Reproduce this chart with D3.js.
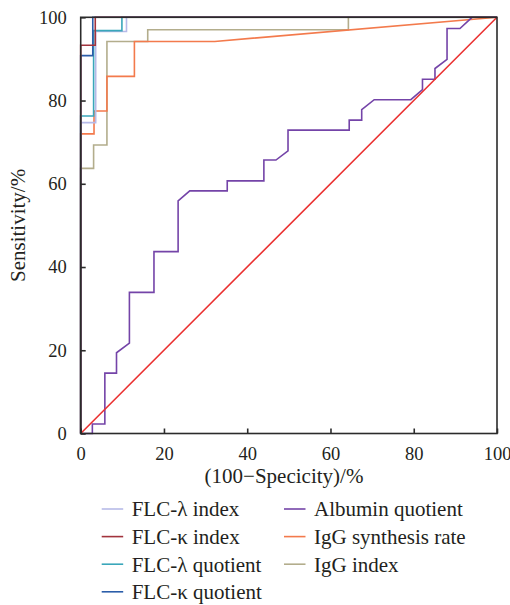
<!DOCTYPE html>
<html lang="en">
<head>
  <meta charset="UTF-8">
  <title>ROC curves</title>
  <style>
    body {
      margin: 0;
      padding: 0;
      background: #ffffff;
    }
    svg text {
      font-family: 'Liberation Serif', 'DejaVu Serif', serif;
      fill: #231f20;
    }
  </style>
</head>
<body>
<svg width="510" height="605" viewBox="0 0 510 605"></svg>

<script src="https://d3js.org/d3.v7.min.js"></script>
<script>
  // ROC curves, [100 - specificity, sensitivity] in %
  const flcLambdaIndex = [[0, 0], [0, 74.7], [3.6, 74.7], [3.6, 96.6], [11.0, 96.6], [11.0, 100], [100, 100]];
  const flcKappaIndex = [[0, 0], [0, 93.3], [3.5, 93.3], [3.5, 100], [100, 100]];
  const flcLambdaQuotient = [[0, 0], [0, 76.3], [3.1, 76.3], [3.1, 96.8], [9.9, 96.8], [9.9, 100], [100, 100]];
  const flcKappaQuotient = [[0, 0], [0, 90.8], [2.9, 90.8], [2.9, 100], [100, 100]];
  const albuminQuotient = [[0, 0], [2.8, 0], [2.8, 2.3], [5.8, 2.3], [5.8, 14.5], [8.6, 14.5], [8.6, 19.4],
    [11.7, 21.7], [11.7, 33.9], [17.6, 33.9], [17.6, 43.7], [23.4, 43.7], [23.4, 55.9], [26.2, 58.3],
    [35.2, 58.3], [35.2, 60.7], [44.0, 60.7], [44.0, 65.7], [46.9, 65.7], [49.8, 67.9], [49.8, 72.9],
    [64.5, 72.9], [64.5, 75.3], [67.5, 75.3], [67.5, 77.8], [70.5, 80.2], [79.3, 80.2], [82.1, 82.6],
    [82.1, 85.1], [85.1, 85.1], [85.1, 87.7], [88.0, 89.9], [88.0, 97.3], [91.1, 97.3], [94.0, 100], [100, 100]];
  const iggSynthesisRate = [[0, 0], [0, 72.0], [3.2, 72.0], [3.2, 77.5], [6.3, 77.5], [6.3, 85.8],
    [12.9, 85.8], [12.9, 94.2], [32.2, 94.2], [100, 100]];
  const iggIndex = [[0, 0], [0, 63.7], [3.1, 63.7], [3.1, 69.3], [6.3, 69.3], [6.3, 94.2], [16.1, 94.2],
    [16.1, 97.0], [64.3, 97.0], [64.3, 100], [100, 100]];
  const reference = [[0, 0], [100, 100]];

  const xTicks = [0, 20, 40, 60, 80, 100];
  const yTicks = [0, 20, 40, 60, 80, 100];

  // drawing order (bottom to top) and legend info
  const series = [
    { name: "IgG index", data: iggIndex, color: "#b3ad8c" },
    { name: "IgG synthesis rate", data: iggSynthesisRate, color: "#f37a4c" },
    { name: "Albumin quotient", data: albuminQuotient, color: "#7444a8" },
    { name: "FLC-λ index", data: flcLambdaIndex, color: "#b6bae8" },
    { name: "FLC-λ quotient", data: flcLambdaQuotient, color: "#3aa7ba" },
    { name: "FLC-κ quotient", data: flcKappaQuotient, color: "#2b5da9" },
    { name: "FLC-κ index", data: flcKappaIndex, color: "#a2333d" }
  ];
  const legendOrder = ["FLC-λ index", "FLC-κ index", "FLC-λ quotient", "FLC-κ quotient",
    "Albumin quotient", "IgG synthesis rate", "IgG index"];

  const margin = { left: 80.7, right: 13, top: 17.3, bottom: 171.5 };
  const width = 510, height = 605;

  const svg = d3.select("svg");

  const x = d3.scaleLinear().domain([0, 100]).range([margin.left, width - margin.right]);
  const y = d3.scaleLinear().domain([0, 100]).range([height - margin.bottom, margin.top]);

  const line = d3.line().x(d => x(d[0])).y(d => y(d[1]));

  // curves
  series.forEach(s => {
    svg.append("path")
      .datum(s.data)
      .attr("d", line)
      .attr("fill", "none")
      .attr("stroke", s.color)
      .attr("stroke-width", 1.6);
  });

  svg.append("path")
    .datum(reference)
    .attr("d", line)
    .attr("fill", "none")
    .attr("stroke", "#ea3030")
    .attr("stroke-width", 1.6);

  // frame
  svg.append("rect")
    .attr("x", x(0))
    .attr("y", y(100))
    .attr("width", x(100) - x(0))
    .attr("height", y(0) - y(100))
    .attr("fill", "none")
    .attr("stroke", "#2b2b2b")
    .attr("stroke-width", 1.6);

  // axes, ticks inward
  const xAxis = svg.append("g")
    .attr("transform", `translate(0,${y(0)})`)
    .call(d3.axisBottom(x).tickValues(xTicks).tickSize(-5).tickPadding(13));
  const yAxis = svg.append("g")
    .attr("transform", `translate(${x(0)},0)`)
    .call(d3.axisLeft(y).tickValues(yTicks).tickSize(-5).tickPadding(14));

  [xAxis, yAxis].forEach(g => {
    g.select(".domain").remove();
    g.selectAll(".tick line").attr("stroke", "#2b2b2b").attr("stroke-width", 1.6);
    g.selectAll(".tick text").style("font-size", "18.5px").attr("fill", "#231f20");
  });

  // axis titles
  svg.append("text")
    .attr("x", 284)
    .attr("y", 483)
    .attr("text-anchor", "middle")
    .style("font-size", "21px")
    .text("(100\u2212Specicity)/%");

  svg.append("text")
    .attr("transform", `translate(25,${(y(0) + y(100)) / 2}) rotate(-90)`)
    .attr("text-anchor", "middle")
    .style("font-size", "21px")
    .text("Sensitivity/%");

  // legend in two columns
  const colorOf = Object.fromEntries(series.map(s => [s.name, s.color]));
  const legend = svg.append("g");
  legendOrder.forEach((name, i) => {
    const col = i < 4 ? 0 : 1;
    const row = i < 4 ? i : i - 4;
    const lx = col === 0 ? 101.7 : 284;
    const ly = 509 + row * 27.6;
    legend.append("line")
      .attr("x1", lx).attr("x2", lx + 21.5)
      .attr("y1", ly).attr("y2", ly)
      .attr("stroke", colorOf[name])
      .attr("stroke-width", 1.6);
    legend.append("text")
      .attr("x", lx + 30)
      .attr("y", ly)
      .attr("dy", "0.35em")
      .style("font-size", "21px")
      .text(name);
  });
</script>
</body>
</html>
